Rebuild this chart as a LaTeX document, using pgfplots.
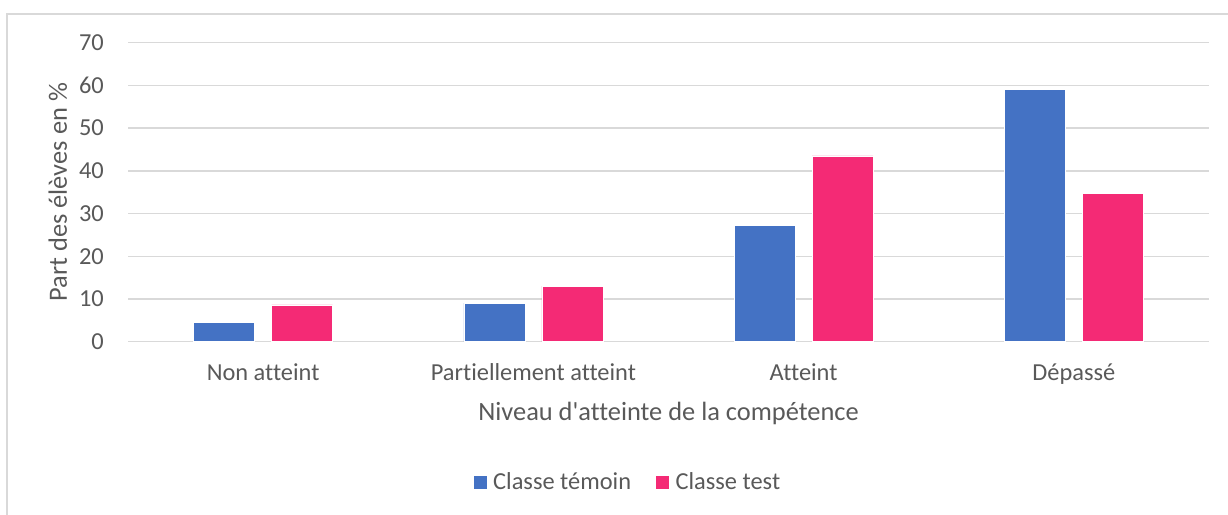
\documentclass[border=0pt]{standalone}
\usepackage{fontspec}
\setmainfont{Carlito}[Ligatures={TeXOff,NoCommon}]
\usepackage{pgfplots}
\pgfplotsset{compat=1.18}
\definecolor{cblue}{HTML}{4472C4}
\definecolor{cpink}{HTML}{F42A75}
\definecolor{cgrid}{HTML}{D9D9D9}
\definecolor{ctext}{HTML}{595959}
\begin{document}
\begin{tikzpicture}[x=1bp,y=1bp]
\useasboundingbox (0,0) rectangle (1228,515);
\draw[cgrid,line width=1.5bp] (7,0) -- (7,501) -- (1228,501);
\begin{axis}[
  at={(128bp,173.3bp)}, anchor=south west,
  scale only axis, width=1081bp, height=299bp,
  ybar, bar width=61bp,
  xmin=-0.5, xmax=3.5, ymin=0, ymax=70,
  xtick={0,1,2,3},
  xticklabels={Non atteint, Partiellement atteint, Atteint, Dépassé},
  ytick={0,10,...,70},
  ymajorgrids, grid style={cgrid,line width=1.5bp},
  axis line style={draw=none},
  axis x line*=bottom, axis y line*=left,
  x axis line style={cgrid,line width=1.5bp},
  major tick length=0pt,
  tick label style={font=\fontsize{24.5}{29}\selectfont, text=ctext},
  /pgf/number format/assume math mode=true,
  yticklabel style={xshift=-20.7bp},
  xticklabel style={anchor=base, yshift=-39.3bp},
  xlabel={Niveau d'atteinte de la compétence},
  ylabel={Part des élèves en \%},
  label style={font=\fontsize{26.5}{31}\selectfont, text=ctext},
  xlabel style={at={(axis description cs:0.5,-0.2619)}, anchor=base},
  ylabel style={at={(axis description cs:-0.0565,0.5)}, anchor=base, rotate=0},
  legend columns=2,
  legend style={at={(0.462,-0.469)}, anchor=center, draw=none, fill=none,
    font=\fontsize{24.5}{29}\selectfont, text=ctext,
    /tikz/every odd column/.append style={column sep=4bp},
    /tikz/every even column/.append style={column sep=22bp}},
  legend image code/.code={\fill[#1] (0bp,-7bp) rectangle (14bp,7bp);},
]
\addplot[fill=cblue, draw=white, line width=0.5bp, bar shift=-39bp] coordinates {(0,4.45) (1,9.0) (2,27.2) (3,59.1)};
\addplot[fill=cpink, draw=white, line width=0.5bp, bar shift=39bp] coordinates {(0,8.6) (1,13.0) (2,43.5) (3,34.75)};
\legend{Classe témoin, Classe test}
\end{axis}
\end{tikzpicture}
\end{document}
